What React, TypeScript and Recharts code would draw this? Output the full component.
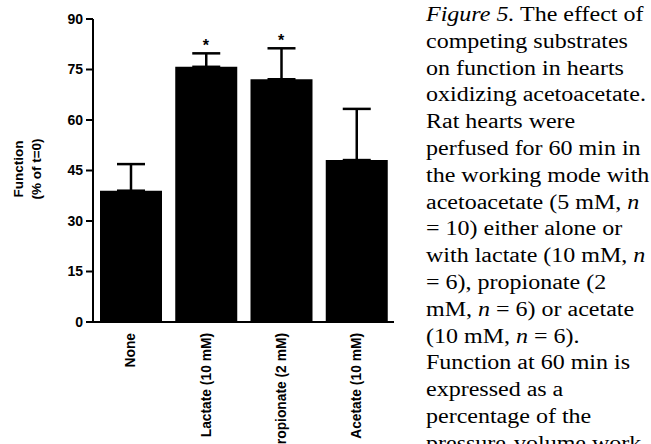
import { ComposedChart, Bar, ErrorBar, Scatter, XAxis, YAxis } from 'recharts';

const categories = ['None', 'Lactate (10 mM)', 'Propionate (2 mM)', 'Acetate (10 mM)'];
const functionMeans = [39, 75.8, 72.1, 48.1];
const functionErrors = [7.9, 4.0, 9.2, 15.2];
const significant = [false, true, true, false];
const yTicks = [0, 15, 30, 45, 60, 75, 90];

// caption lines, each a list of [text, italic]
const captionLines: [string, boolean][][] = [
  [['Figure 5.', true], [' The effect of', false]],
  [['competing substrates', false]],
  [['on function in hearts', false]],
  [['oxidizing acetoacetate.', false]],
  [['Rat hearts were', false]],
  [['perfused for 60 min in', false]],
  [['the working mode with', false]],
  [['acetoacetate (5 mM, ', false], ['n', true]],
  [['= 10) either alone or', false]],
  [['with lactate (10 mM, ', false], ['n', true]],
  [['= 6), propionate (2', false]],
  [['mM, ', false], ['n', true], [' = 6) or acetate', false]],
  [['(10 mM, ', false], ['n', true], [' = 6).', false]],
  [['Function at 60 min is', false]],
  [['expressed as a', false]],
  [['percentage of the', false]],
  [['pressure-volume work', false]],
];

const data = categories.map((name, i) => ({
  name,
  value: functionMeans[i],
  err: [0, functionErrors[i]],
  star: significant[i] ? functionMeans[i] + functionErrors[i] : null,
}));

const SANS = '"Liberation Sans", Arial, Helvetica, sans-serif';

const CategoryTick = ({ x, y, payload }: any) => (
  <text
    x={x}
    y={y}
    transform={`rotate(-90, ${x}, ${y})`}
    textAnchor="end"
    dy="0.35em"
    fontFamily={SANS}
    fontWeight="bold"
    fontSize={13.8}
    fill="#000"
  >
    {payload.value}
  </text>
);

const StarShape = ({ cx, cy, payload }: any) => {
  if (payload.star == null) return <g />;
  return (
    <text x={cx} y={cy - 2} textAnchor="middle" fontFamily={SANS} fontWeight="bold" fontSize={16} fill="#000">
      *
    </text>
  );
};

const YLabel = () => (
  <g fontFamily={SANS} fontWeight="bold" fontSize={13.5} fill="#000">
    <text x={18} y={169} transform="rotate(-90, 18, 169)" textAnchor="middle" dy="0.35em">
      Function
    </text>
    <text x={36} y={169} transform="rotate(-90, 36, 169)" textAnchor="middle" dy="0.35em">
      (% of t=0)
    </text>
  </g>
);

export default function App() {
  return (
    <div style={{ position: 'absolute', left: 0, top: 0, width: 651, height: 444, overflow: 'hidden', background: '#fff' }}>
      <ComposedChart
        width={410}
        height={444}
        data={data}
        margin={{ top: 19, right: 16, bottom: 12, left: 39 }}
      >
        <XAxis
          dataKey="name"
          height={110}
          axisLine={{ stroke: '#000', strokeWidth: 2 }}
          tickLine={false}
          tickSize={0}
          tickMargin={11}
          tick={<CategoryTick />}
          interval={0}
        />
        <YAxis
          width={54}
          domain={[0, 90]}
          ticks={yTicks}
          tickSize={7}
          tickMargin={3}
          axisLine={{ stroke: '#000', strokeWidth: 2 }}
          tickLine={{ stroke: '#000', strokeWidth: 2 }}
          tick={{ fill: '#000', fontSize: 14, fontWeight: 'bold', fontFamily: SANS }}
          label={{ content: () => <YLabel /> }}
        />
        <Bar dataKey="value" fill="#000" barSize={62} isAnimationActive={false}>
          <ErrorBar dataKey="err" width={14} stroke="#000" strokeWidth={2.5} />
        </Bar>
        <Scatter dataKey="star" shape={<StarShape />} isAnimationActive={false} legendType="none" />
      </ComposedChart>
      <div
        style={{
          position: 'absolute',
          left: 426,
          top: 1,
          fontFamily: '"Liberation Serif", "Times New Roman", serif',
          fontSize: 20,
          lineHeight: '26.8px',
          color: '#000',
          whiteSpace: 'nowrap',
          transform: 'scaleX(1.2)',
          transformOrigin: 'left top',
        }}
      >
        {captionLines.map((line, i) => (
          <div key={i}>
            {line.map(([t, it], j) => (
              <span key={j} style={{ fontStyle: it ? 'italic' : 'normal' }}>
                {t}
              </span>
            ))}
          </div>
        ))}
      </div>
    </div>
  );
}
